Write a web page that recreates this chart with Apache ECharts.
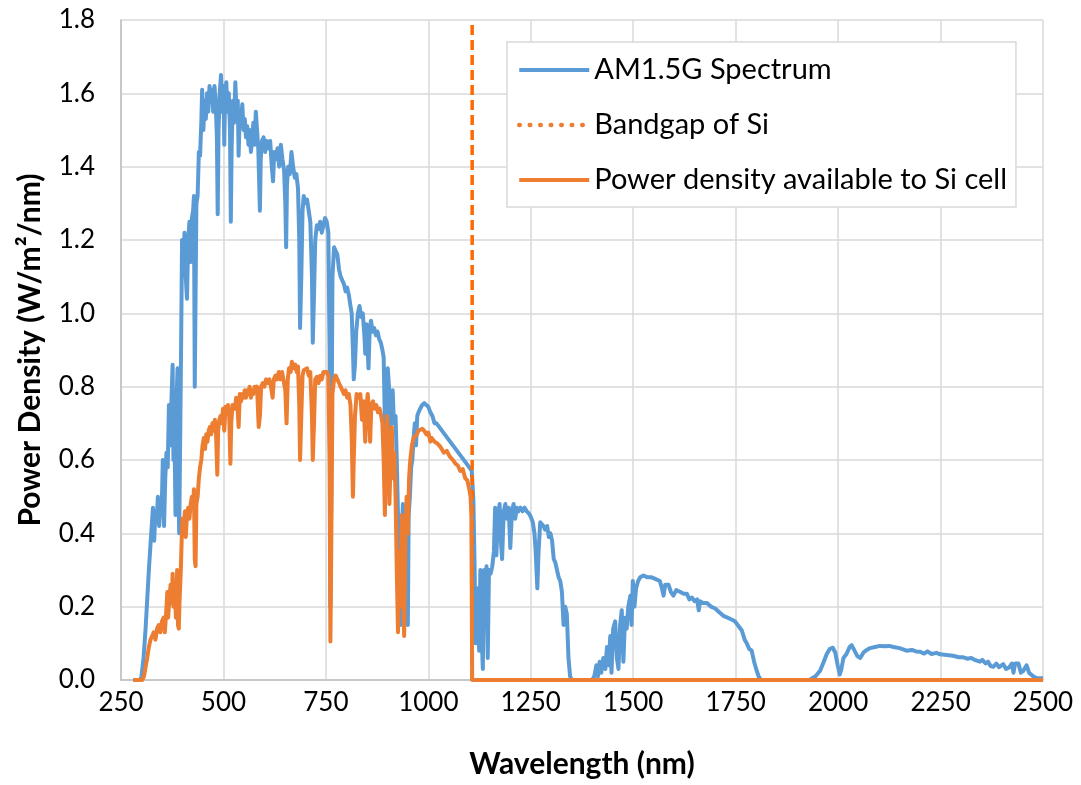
<!DOCTYPE html>
<html>
<head>
<meta charset="utf-8">
<script src="https://cdn.jsdelivr.net/npm/echarts@6/dist/echarts.min.js"></script>
<style>
  html, body { margin: 0; padding: 0; background: #fff; }
  #main { width: 1081px; height: 785px; }
</style>
</head>
<body>
<div id="main"></div>
<script>
// [wavelength (nm), power density (W/m²/nm)]
const am15g = [
  [280,0],[290,0],[297,0],[300,0.01],[305,0.06],[310,0.14],[314,0.22],[318,0.3],[322,0.37],[325,0.42],
  [328,0.47],[331,0.38],[334,0.46],[337,0.43],[340,0.5],[343,0.42],[346,0.47],[349,0.45],[352,0.6],[355,0.42],
  [358,0.55],[361,0.62],[364,0.58],[367,0.75],[370,0.64],[373,0.76],[376,0.86],[378,0.6],[380,0.73],[383,0.45],
  [385,0.74],[388,0.85],[390,0.55],[392,0.4],[395,0.72],[397,0.95],[399,1.2],[402,1.12],[405,1.22],[408,1.1],
  [411,1.04],[414,1.2],[417,1.25],[420,1.14],[423,1.26],[426,1.28],[428,1.32],[430,0.8],[432,1.05],[434,1.3],
  [437,1.32],[440,1.44],[443,1.43],[446,1.52],[448,1.61],[451,1.5],[454,1.58],[457,1.53],[460,1.6],[463,1.55],
  [466,1.62],[469,1.58],[472,1.61],[475,1.55],[478,1.62],[481,1.58],[484,1.48],[486,1.27],[488,1.5],[491,1.6],
  [494,1.65],[497,1.55],[500,1.62],[502,1.46],[504,1.6],[507,1.63],[510,1.55],[513,1.6],[516,1.5],[518,1.25],
  [520,1.45],[523,1.58],[526,1.52],[529,1.63],[532,1.55],[535,1.58],[537,1.43],[540,1.55],[543,1.52],[546,1.57],
  [549,1.5],[552,1.53],[555,1.48],[558,1.51],[561,1.46],[564,1.5],[567,1.44],[570,1.47],[573,1.52],[576,1.46],
  [579,1.55],[582,1.5],[585,1.45],[589,1.28],[591,1.42],[594,1.47],[598,1.48],[602,1.44],[606,1.47],[610,1.45],
  [614,1.47],[618,1.4],[621,1.36],[624,1.44],[628,1.42],[632,1.45],[636,1.4],[640,1.46],[644,1.42],[648,1.39],
  [651,1.3],[653,1.18],[655,1.35],[658,1.4],[662,1.38],[666,1.44],[670,1.4],[674,1.37],[678,1.38],[682,1.34],
  [685,1.2],[687,0.96],[690,1.1],[693,1.28],[696,1.32],[700,1.3],[704,1.31],[708,1.28],[712,1.25],[716,1.1],
  [718,0.92],[721,1.05],[724,1.2],[728,1.24],[732,1.23],[736,1.25],[740,1.22],[744,1.24],[748,1.26],[752,1.25],
  [756,1.22],[759,0.9],[761,0.2],[763,0.5],[766,1.1],[770,1.18],[774,1.17],[778,1.16],[782,1.12],[786,1.1],
  [790,1.09],[794,1.08],[798,1.06],[802,1.07],[806,1.05],[810,1.02],[813,1.0],[816,0.9],[818,0.82],[821,0.86],
  [824,0.95],[828,1.0],[832,1.02],[836,0.99],[840,1.0],[844,0.94],[846,0.89],[849,0.97],[852,0.9],[854,0.85],
  [857,0.96],[860,0.98],[864,0.95],[868,0.96],[872,0.94],[876,0.95],[880,0.93],[884,0.92],[888,0.9],[891,0.88],
  [894,0.7],[896,0.55],[898,0.7],[901,0.85],[904,0.8],[907,0.68],[910,0.76],[913,0.79],[916,0.7],[920,0.72],
  [923,0.6],[926,0.45],[929,0.25],[932,0.15],[935,0.4],[938,0.48],[941,0.3],[944,0.18],[947,0.4],[950,0.15],
  [952,0.45],[955,0.5],[958,0.58],[961,0.6],[964,0.66],[967,0.7],[970,0.64],[973,0.72],[976,0.73],[980,0.74],
  [985,0.75],[990,0.755],[995,0.75],[1000,0.745],[1005,0.73],[1010,0.72],[1015,0.7],[1020,0.7],[1030,0.685],[1040,0.67],
  [1050,0.655],[1060,0.64],[1070,0.625],[1080,0.61],[1090,0.595],[1100,0.58],[1106,0.57],[1110,0.49],[1113,0.3],[1115,0.1],
  [1118,0.2],[1121,0.25],[1124,0.08],[1127,0.3],[1130,0.12],[1133,0.03],[1136,0.3],[1139,0.15],[1142,0.31],[1145,0.06],
  [1148,0.3],[1152,0.29],[1156,0.31],[1160,0.35],[1163,0.47],[1166,0.34],[1170,0.45],[1174,0.48],[1177,0.38],[1180,0.33],
  [1184,0.46],[1188,0.48],[1192,0.44],[1196,0.47],[1200,0.36],[1204,0.46],[1208,0.48],[1212,0.44],[1216,0.47],[1220,0.46],
  [1225,0.47],[1230,0.46],[1235,0.47],[1240,0.46],[1245,0.455],[1250,0.445],[1255,0.43],[1259,0.4],[1262,0.35],[1266,0.25],
  [1269,0.35],[1273,0.43],[1277,0.43],[1281,0.42],[1285,0.41],[1290,0.42],[1294,0.39],[1298,0.4],[1302,0.38],[1306,0.33],
  [1310,0.32],[1314,0.3],[1318,0.28],[1322,0.27],[1326,0.24],[1330,0.15],[1334,0.2],[1338,0.18],[1342,0.06],[1346,0.01],
  [1350,0],[1400,0],[1405,0.01],[1410,0.04],[1414,0.01],[1418,0.05],[1422,0.02],[1427,0.06],[1432,0.03],[1436,0.09],
  [1440,0.04],[1444,0.12],[1447,0.02],[1451,0.14],[1456,0.16],[1460,0.06],[1464,0.03],[1468,0.15],[1472,0.19],[1476,0.05],
  [1480,0.17],[1484,0.14],[1488,0.2],[1493,0.23],[1496,0.15],[1499,0.27],[1503,0.2],[1507,0.25],[1512,0.27],[1517,0.28],
  [1525,0.285],[1535,0.28],[1545,0.28],[1555,0.275],[1565,0.27],[1570,0.25],[1574,0.23],[1578,0.26],[1586,0.26],[1592,0.24],
  [1598,0.23],[1605,0.245],[1615,0.24],[1623,0.235],[1631,0.235],[1637,0.22],[1643,0.225],[1650,0.215],[1656,0.22],[1660,0.19],
  [1663,0.215],[1670,0.21],[1680,0.21],[1690,0.2],[1700,0.195],[1710,0.185],[1720,0.175],[1730,0.17],[1740,0.165],[1748,0.16],
  [1755,0.15],[1765,0.135],[1772,0.11],[1777,0.1],[1783,0.085],[1789,0.08],[1795,0.05],[1800,0.03],[1806,0.01],[1812,0],
  [1930,0],[1945,0.01],[1956,0.025],[1965,0.05],[1972,0.07],[1980,0.085],[1987,0.088],[1993,0.075],[1999,0.04],[2004,0.015],
  [2008,0.03],[2013,0.06],[2020,0.07],[2028,0.09],[2033,0.095],[2040,0.08],[2047,0.065],[2054,0.06],[2062,0.075],[2070,0.082],
  [2078,0.087],[2090,0.09],[2102,0.093],[2115,0.092],[2125,0.093],[2135,0.09],[2150,0.087],[2167,0.08],[2180,0.082],[2190,0.078],
  [2200,0.077],[2210,0.072],[2218,0.078],[2228,0.071],[2240,0.074],[2249,0.07],[2265,0.068],[2280,0.066],[2295,0.062],[2306,0.062],
  [2315,0.058],[2325,0.06],[2335,0.054],[2346,0.05],[2352,0.055],[2360,0.045],[2366,0.05],[2372,0.038],[2379,0.036],[2386,0.045],
  [2393,0.035],[2403,0.043],[2410,0.03],[2418,0.035],[2424,0.045],[2428,0.02],[2432,0.045],[2440,0.045],[2446,0.02],[2452,0.025],
  [2460,0.04],[2466,0.02],[2476,0.01],[2485,0.005],[2497,0.005],[2500,0.005]
]

const siCell = [
  [280,0],[302,0],[306,0.01],[310,0.036],[314,0.06],[318,0.09],[322,0.11],[326,0.12],[330,0.13],[334,0.11],
  [338,0.14],[342,0.15],[346,0.13],[350,0.16],[354,0.17],[357,0.13],[360,0.18],[363,0.24],[365,0.17],[368,0.22],
  [371,0.26],[374,0.21],[376,0.29],[378,0.2],[381,0.26],[384,0.17],[387,0.3],[389,0.15],[391,0.14],[393,0.22],
  [396,0.3],[398,0.38],[400,0.44],[403,0.42],[406,0.46],[408,0.39],[411,0.45],[414,0.47],[417,0.44],[420,0.48],
  [423,0.5],[426,0.47],[428,0.52],[430,0.33],[432,0.31],[434,0.48],[437,0.5],[440,0.55],[443,0.58],[446,0.6],
  [449,0.64],[452,0.66],[455,0.63],[458,0.67],[461,0.65],[464,0.68],[467,0.69],[470,0.67],[473,0.7],[476,0.68],
  [479,0.71],[482,0.67],[485,0.56],[487,0.68],[490,0.71],[493,0.72],[496,0.7],[499,0.74],[502,0.68],[505,0.745],
  [508,0.73],[511,0.75],[514,0.72],[517,0.59],[519,0.7],[522,0.75],[525,0.755],[528,0.74],[531,0.77],[534,0.75],
  [537,0.69],[540,0.78],[543,0.76],[546,0.78],[549,0.77],[552,0.79],[555,0.77],[558,0.79],[561,0.78],[564,0.8],
  [567,0.77],[570,0.79],[573,0.78],[576,0.8],[579,0.79],[582,0.8],[586,0.69],[589,0.72],[592,0.8],[596,0.81],
  [600,0.8],[604,0.82],[608,0.81],[612,0.82],[616,0.8],[620,0.77],[623,0.82],[627,0.83],[631,0.82],[635,0.84],
  [639,0.82],[643,0.84],[647,0.835],[651,0.79],[654,0.7],[657,0.82],[660,0.85],[664,0.84],[667,0.868],[671,0.85],
  [675,0.86],[679,0.84],[682,0.855],[685,0.75],[687,0.6],[690,0.72],[693,0.83],[696,0.845],[700,0.84],[704,0.85],
  [708,0.83],[712,0.84],[716,0.72],[718,0.6],[721,0.7],[724,0.82],[728,0.827],[732,0.81],[736,0.83],[740,0.82],
  [744,0.84],[748,0.845],[752,0.84],[756,0.83],[759,0.6],[761,0.105],[763,0.35],[766,0.78],[770,0.82],[774,0.83],
  [778,0.82],[782,0.81],[786,0.8],[790,0.8],[794,0.78],[798,0.79],[802,0.77],[806,0.78],[810,0.75],[813,0.66],
  [816,0.5],[818,0.6],[821,0.72],[825,0.78],[830,0.77],[834,0.78],[838,0.71],[842,0.76],[846,0.65],[849,0.74],
  [852,0.78],[855,0.74],[858,0.65],[861,0.75],[865,0.76],[869,0.74],[873,0.75],[877,0.73],[881,0.74],[885,0.72],
  [888,0.7],[891,0.6],[894,0.45],[896,0.62],[899,0.72],[902,0.65],[905,0.48],[908,0.6],[911,0.69],[914,0.55],
  [917,0.62],[920,0.5],[923,0.3],[926,0.13],[929,0.35],[932,0.2],[935,0.45],[938,0.3],[941,0.12],[944,0.38],
  [947,0.5],[950,0.4],[953,0.55],[956,0.6],[960,0.64],[964,0.66],[968,0.66],[972,0.67],[976,0.68],[980,0.68],
  [985,0.685],[990,0.68],[995,0.67],[1000,0.675],[1005,0.65],[1008,0.66],[1015,0.65],[1022,0.645],[1030,0.635],[1038,0.62],
  [1045,0.625],[1052,0.61],[1060,0.6],[1066,0.59],[1072,0.585],[1078,0.57],[1084,0.575],[1090,0.55],[1095,0.545],[1100,0.52],
  [1103,0.5],[1105,0.45],[1107,0],[2500,0]
]

const bandgapNm = 1107
const xRange = [250, 2500, 250]
const yRange = [0, 1.8, 0.2]
const names = ['AM1.5G Spectrum', 'Bandgap of Si', 'Power density available to Si cell']
const colors = ['#5B9BD5', '#FF6A00', '#ED7D31']

const font = 'Lato'
const chart = echarts.init(document.getElementById('main'))

chart.setOption({
  animation: false,
  textStyle: { fontFamily: font, color: '#000' },
  grid: { left: 121, right: 38, top: 20, bottom: 105 },
  legend: {
    orient: 'vertical',
    left: 507,
    top: 42,
    padding: [13, 9, 12, 10],
    itemWidth: 70,
    itemHeight: 14,
    itemGap: 25,
    itemStyle: { opacity: 0 },
    lineStyle: { width: 4 },
    backgroundColor: '#fff',
    borderColor: '#D9D9D9',
    borderWidth: 1.5,
    borderRadius: 0,
    textStyle: { fontFamily: font, fontSize: 29, color: '#000', lineHeight: 30 },
    data: [
      { name: names[0] },
      { name: names[1], lineStyle: { color: '#ED7D31', type: [0.5, 10], cap: 'round', width: 4.5 } },
      { name: names[2] }
    ]
  },
  xAxis: {
    type: 'value',
    min: xRange[0],
    max: xRange[1],
    interval: xRange[2],
    name: 'Wavelength (nm)',
    nameLocation: 'middle',
    nameGap: 69,
    nameTextStyle: { fontFamily: font, fontSize: 30, fontWeight: 'bold', color: '#000' },
    axisLine: { show: true, lineStyle: { color: '#BFBFBF', width: 1.5 } },
    axisTick: { show: false },
    axisLabel: { fontSize: 26, color: '#000', margin: 10, formatter: v => String(v) },
    splitLine: { show: true, lineStyle: { color: '#D9D9D9', width: 1.5 } }
  },
  yAxis: {
    type: 'value',
    min: yRange[0],
    max: yRange[1],
    interval: yRange[2],
    name: 'Power Density (W/m²/nm)',
    nameLocation: 'middle',
    nameGap: 76,
    nameTextStyle: { fontFamily: font, fontSize: 30, fontWeight: 'bold', color: '#000' },
    axisLine: { show: true, lineStyle: { color: '#BFBFBF', width: 1.5 } },
    axisTick: { show: false },
    axisLabel: { fontSize: 26, color: '#000', margin: 26, formatter: v => v.toFixed(1) },
    splitLine: { show: true, lineStyle: { color: '#D9D9D9', width: 1.5 } }
  },
  series: [
    {
      name: names[0],
      type: 'line',
      data: am15g,
      symbol: 'none',
      color: colors[0],
      lineStyle: { width: 4, join: 'round' }
    },
    {
      name: names[1],
      type: 'line',
      data: [[bandgapNm, yRange[0]], [bandgapNm, yRange[1]]],
      symbol: 'none',
      color: colors[1],
      lineStyle: { width: 3.5, type: [10, 5] }
    },
    {
      name: names[2],
      type: 'line',
      data: siCell,
      symbol: 'none',
      color: colors[2],
      lineStyle: { width: 4, join: 'round' }
    }
  ]
})
</script>
</body>
</html>
